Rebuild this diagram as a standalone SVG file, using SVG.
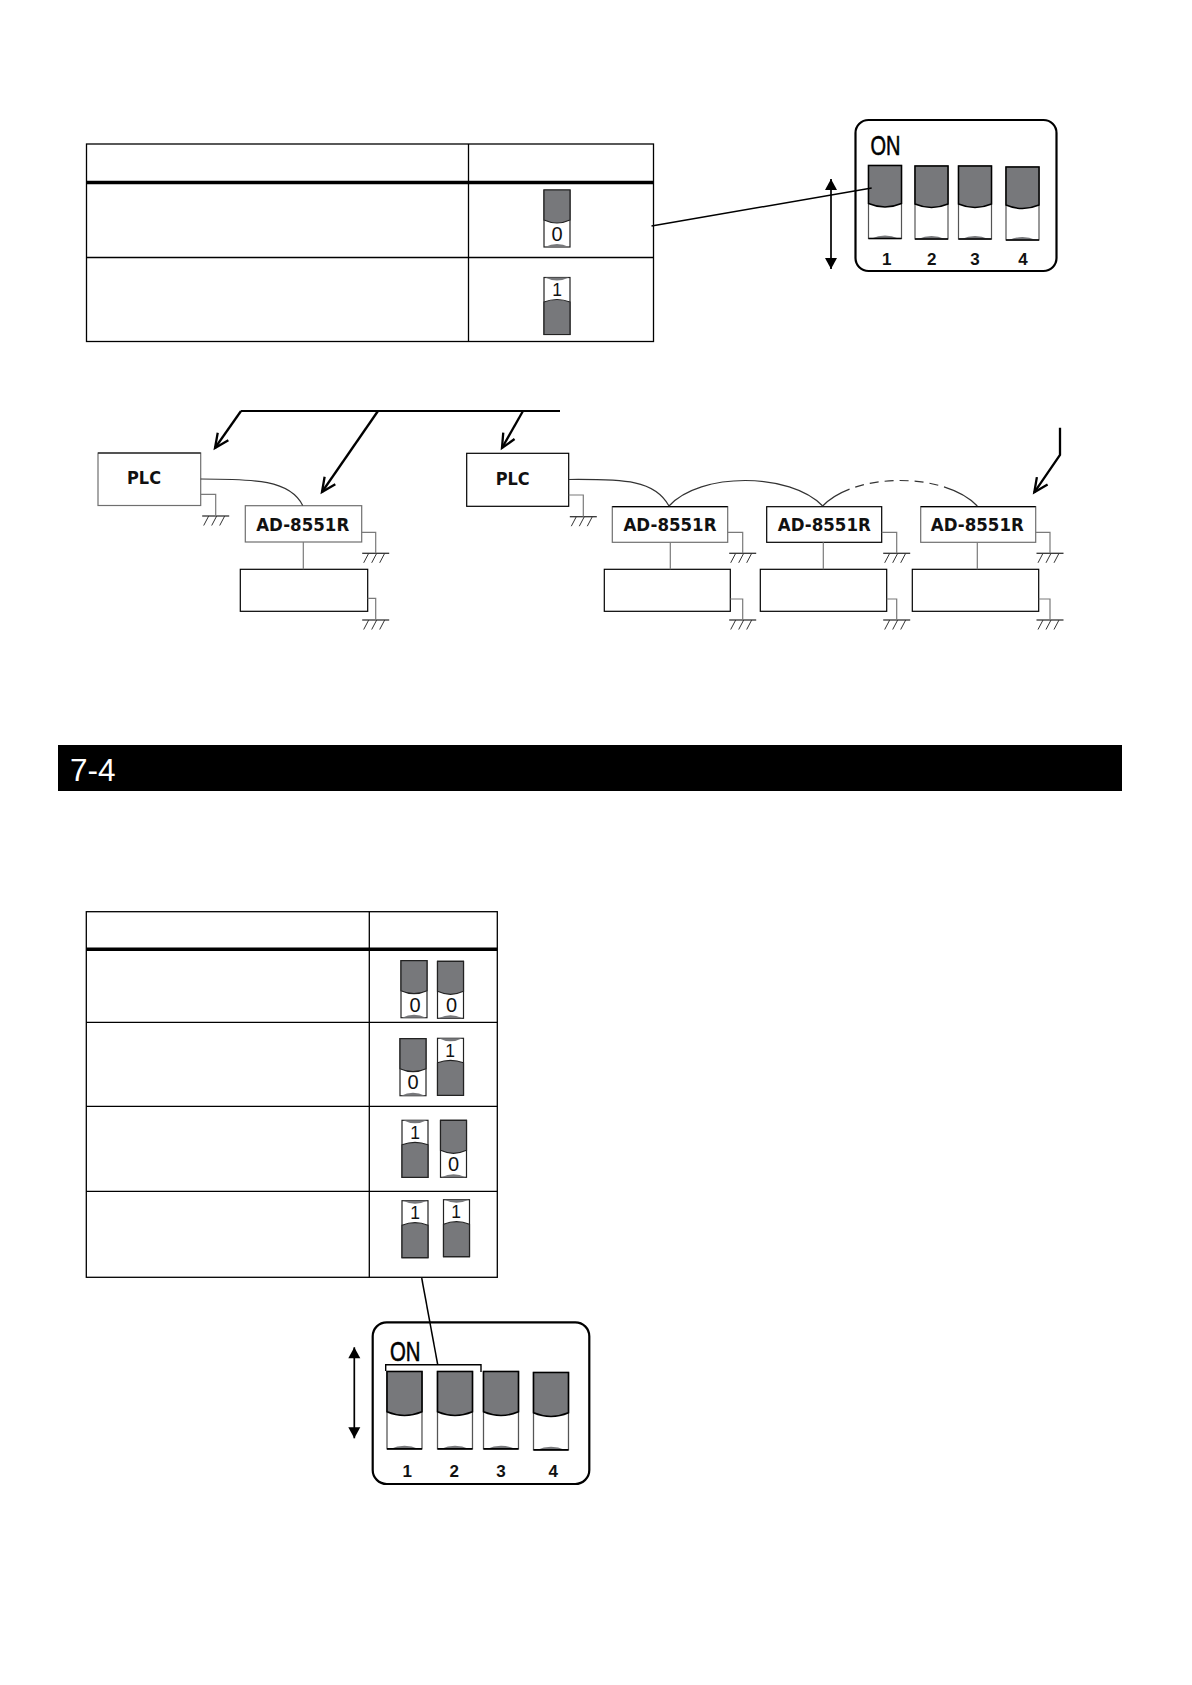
<svg xmlns="http://www.w3.org/2000/svg" xmlns:xlink="http://www.w3.org/1999/xlink" width="1192" height="1685" viewBox="0 0 1192 1685">
<style>
.tb{fill:none;stroke:#000;stroke-width:1.3}
.thick{fill:none;stroke:#000;stroke-width:3.4}
.box{fill:#fff;stroke:#000;stroke-width:1.2}
.boxg{fill:#fff;stroke:#6f6f6f;stroke-width:1.2}
.top{fill:none;stroke:#000;stroke-width:1.2}
.wire{fill:none;stroke:#7a7a7a;stroke-width:1.2}
.cable{fill:none;stroke:#333;stroke-width:1.2}
.lead{fill:none;stroke:#000;stroke-width:1.5}
.bus{fill:none;stroke:#000;stroke-width:2.3;marker-end:url(#vee)}
.dbl{fill:none;stroke:#000;stroke-width:1.7;marker-start:url(#solidS);marker-end:url(#solidE)}
.name{font-family:"DejaVu Sans",Verdana,sans-serif;font-weight:700;font-size:17.5px;text-anchor:middle;fill:#111}
.dig{font-family:"Liberation Sans",Arial,sans-serif;font-size:20px;text-anchor:middle;fill:#111}
.one{font-family:"Liberation Sans",Arial,sans-serif;font-size:17.5px;text-anchor:middle;fill:#111}
.num{font-family:"Liberation Sans",Arial,sans-serif;font-weight:700;font-size:17px;text-anchor:middle;fill:#111}
.on{font-family:"Liberation Sans",Arial,sans-serif;font-size:28px;fill:#000;stroke:#000;stroke-width:.6}
.panel{fill:#fff;stroke:#000;stroke-width:2.2}
</style>
<defs>
<marker id="vee" markerUnits="userSpaceOnUse" markerWidth="22" markerHeight="22" refX="17" refY="11" orient="auto" overflow="visible"><path d="M3 4.5 L17 11 L3 17.5" fill="none" stroke="#000" stroke-width="2.3"/></marker>
<marker id="solidE" markerUnits="userSpaceOnUse" markerWidth="14" markerHeight="14" refX="11" refY="7" orient="auto"><path d="M0 1 L11 7 L0 13 Z" fill="#000"/></marker>
<marker id="solidS" markerUnits="userSpaceOnUse" markerWidth="14" markerHeight="14" refX="0" refY="7" orient="auto"><path d="M11 1 L0 7 L11 13 Z" fill="#000"/></marker>
<g id="gnd"><path d="M-13.500 0H13.500" stroke="#333" stroke-width="1.300" fill="none"/><path d="M-7 0L-12 9.500M1 0L-4 9.500M9 0L4 9.500" stroke="#333" stroke-width="1" fill="none"/></g>
<g id="big"><rect x="0" y="0" width="33" height="73" fill="#fff" stroke="#555" stroke-width="1.200"/><path d="M0 0H33V38Q16.500 45 0 38Z" fill="#77787b" stroke="#000" stroke-width="1.500"/><path d="M3 73Q16.500 67 30 73Z" fill="#77787b"/><path d="M0 73H33" stroke="#000" stroke-width="1.500"/></g>
<g id="sw0"><rect x="0" y="0" width="26" height="57" fill="#fff" stroke="#222" stroke-width="1.200"/><path d="M0 0H26V30Q13 36 0 30Z" fill="#77787b" stroke="#222" stroke-width="1.200"/><path d="M1 57Q13 51 25 57Z" fill="#77787b"/></g>
<g id="sw1"><rect x="0" y="0" width="26" height="57" fill="#fff" stroke="#222" stroke-width="1.200"/><path d="M0 57H26V24.500Q13 19.500 0 24.500Z" fill="#77787b" stroke="#222" stroke-width="1.200"/><path d="M1 0Q13 6 25 0Z" fill="#77787b"/></g>
</defs>
<rect width="1192" height="1685" fill="#fff"/>

<g id="table-1">
<rect class="tb" x="86.500" y="144" width="567" height="197.500"/>
<path class="tb" d="M468.500 144V341.500M86.500 257.500H653.500"/>
<path class="thick" d="M86.500 182.500H653.500"/>
</g>
<g id="table-1-switch-0"><use href="#sw0" x="544" y="190"/><text class="dig" x="557" y="241">0</text></g>
<g id="table-1-switch-1"><use href="#sw1" x="544" y="277.500"/><text class="one" x="557" y="295.500">1</text></g>

<g id="dip-switch-a">
<rect class="panel" x="855.500" y="120" width="201" height="151" rx="13"/>
<text class="on" x="870.500" y="155" textLength="30" lengthAdjust="spacingAndGlyphs">ON</text>
<use href="#big" x="868.500" y="165.500"/><use href="#big" x="915" y="166"/><use href="#big" x="958.500" y="166"/><use href="#big" x="1006" y="167"/>
<text class="num" x="886.700" y="264.500">1</text><text class="num" x="931.700" y="264.500">2</text><text class="num" x="975" y="264.500">3</text><text class="num" x="1023" y="264.500">4</text>
</g>

<g id="plc-1"><rect class="boxg" x="98" y="453" width="102.700" height="52.500"/><path class="top" d="M98 453H200.700"/><text class="name" x="144" y="484" textLength="34" lengthAdjust="spacingAndGlyphs">PLC</text></g>
<g id="ad-1"><rect class="boxg" x="245.300" y="505.700" width="116.400" height="36.300"/><text class="name" x="302.700" y="531" textLength="93" lengthAdjust="spacingAndGlyphs">AD-8551R</text></g>
<g id="device-1"><rect class="box" x="240.300" y="569.300" width="127.400" height="42"/></g>
<g id="plc-2"><rect class="box" x="466.700" y="453.300" width="102" height="53"/><text class="name" x="512.700" y="485" textLength="34" lengthAdjust="spacingAndGlyphs">PLC</text></g>
<g id="ad-2"><rect class="boxg" x="612.300" y="506.700" width="115.400" height="35.600"/><path class="top" d="M612.300 506.700H727.700"/><text class="name" x="670" y="531" textLength="93" lengthAdjust="spacingAndGlyphs">AD-8551R</text></g>
<g id="device-2"><rect class="box" x="604.300" y="569.300" width="126" height="42"/></g>
<g id="ad-3"><rect class="box" x="766.700" y="506.700" width="115" height="35.600"/><text class="name" x="824.300" y="531" textLength="93" lengthAdjust="spacingAndGlyphs">AD-8551R</text></g>
<g id="device-3"><rect class="box" x="760.300" y="569.300" width="126.400" height="42"/></g>
<g id="ad-4"><rect class="boxg" x="920.700" y="506.700" width="115" height="35.600"/><path class="top" d="M920.700 506.700H1035.700"/><text class="name" x="977.300" y="531" textLength="93" lengthAdjust="spacingAndGlyphs">AD-8551R</text></g>
<g id="device-4"><rect class="box" x="912.300" y="569.300" width="126.400" height="42"/></g>

<g id="grounds">
<use href="#gnd" x="215.700" y="516"/><use href="#gnd" x="375.700" y="553.300"/><use href="#gnd" x="375.700" y="620"/>
<use href="#gnd" x="583.300" y="516.700"/><use href="#gnd" x="742.700" y="553.300"/><use href="#gnd" x="742.700" y="620"/>
<use href="#gnd" x="896.700" y="553.300"/><use href="#gnd" x="896.700" y="620"/><use href="#gnd" x="1050" y="553.300"/><use href="#gnd" x="1050" y="620"/>
</g>

<g id="banner"><rect x="58" y="745" width="1064" height="46" fill="#000"/><text x="70" y="780.700" font-family="'Liberation Sans',Arial,sans-serif" font-size="31.500" fill="#fff">7-4</text></g>

<g id="table-2">
<rect class="tb" x="86.300" y="911.700" width="411" height="365.600"/>
<path class="tb" d="M369.300 911.700V1277.300M86.300 1022.300H497.300M86.300 1106.300H497.300M86.300 1191.300H497.300"/>
<path class="thick" d="M86.300 949.300H497.300"/>
</g>
<g id="t2-r1-a"><use href="#sw0" x="401" y="960.700"/><text class="dig" x="415" y="1011.500">0</text></g>
<g id="t2-r1-b"><use href="#sw0" x="437.500" y="961.300"/><text class="dig" x="451.500" y="1011.500">0</text></g>
<g id="t2-r2-a"><use href="#sw0" x="400" y="1038.700"/><text class="dig" x="413" y="1089">0</text></g>
<g id="t2-r2-b"><use href="#sw1" x="437.500" y="1038.300"/><text class="one" x="450" y="1056.500">1</text></g>
<g id="t2-r3-a"><use href="#sw1" x="402" y="1120.300"/><text class="one" x="415" y="1138.500">1</text></g>
<g id="t2-r3-b"><use href="#sw0" x="440.500" y="1120.300"/><text class="dig" x="453.500" y="1171">0</text></g>
<g id="t2-r4-a"><use href="#sw1" x="402" y="1200.700"/><text class="one" x="415" y="1218.800">1</text></g>
<g id="t2-r4-b"><use href="#sw1" x="443.500" y="1199.700"/><text class="one" x="456" y="1217.800">1</text></g>

<g id="dip-switch-b">
<rect class="panel" x="372.700" y="1322.300" width="216.600" height="161.700" rx="14"/>
<text class="on" x="390" y="1360.700" textLength="30.500" lengthAdjust="spacingAndGlyphs">ON</text>
<use href="#big" transform="translate(387 1371.500) scale(1.06)"/><use href="#big" transform="translate(437.500 1371.500) scale(1.06)"/><use href="#big" transform="translate(483.500 1371.500) scale(1.06)"/><use href="#big" transform="translate(533.500 1372.500) scale(1.06)"/>
<text class="num" x="407.300" y="1477">1</text><text class="num" x="454.300" y="1477">2</text><text class="num" x="501" y="1477">3</text><text class="num" x="553.300" y="1477">4</text>
<path d="M385.700 1371V1364.700H481V1372" fill="none" stroke="#000" stroke-width="1.400"/>
</g>

<g id="connectors">
<path class="lead" d="M651.500 226L871.700 188"/>
<path class="dbl" d="M831 179V269"/>
<path class="lead" d="M421.700 1278L437.700 1364.700"/>
<path class="dbl" d="M354.300 1347.300V1438.300"/>
<path d="M241 411H560" fill="none" stroke="#000" stroke-width="2"/>
<path class="bus" d="M241 411L215 448"/>
<path class="bus" d="M378 411L322 492"/>
<path class="bus" d="M523 411L502 448"/>
<path class="bus" d="M1060 427.700V455L1034.300 492.300"/>
<path class="cable" d="M200.700 479C255 479 290 480 302.700 505.500"/>
<path class="cable" d="M568.700 479.500C625 479 655 480 669 506"/>
<path class="cable" d="M669 506C700 472 790 472 822.700 506"/>
<path class="cable" d="M822.700 506C855 472 945 472 977.300 506" stroke-dasharray="32 6 9 6 9 6 9 6 9 6 9 6 9 6 40"/>
<path class="wire" d="M200.700 494.300H215.700V516M361.700 532.300H375.700V553.300M367.700 598.300H375.700V620M303.300 542V569.300"/>
<path class="wire" d="M568.700 495H583.300V516.700M727.700 532.300H742.700V553.300M730.300 599H742.700V620M670.300 542.300V569.300"/>
<path class="wire" d="M881.700 532.300H896.700V553.300M886.700 599H896.700V620M823.300 542.300V569.300"/>
<path class="wire" d="M1035.700 532.300H1050V553.300M1038.700 599H1050V620M977.300 542.300V569.300"/>
</g>
</svg>
